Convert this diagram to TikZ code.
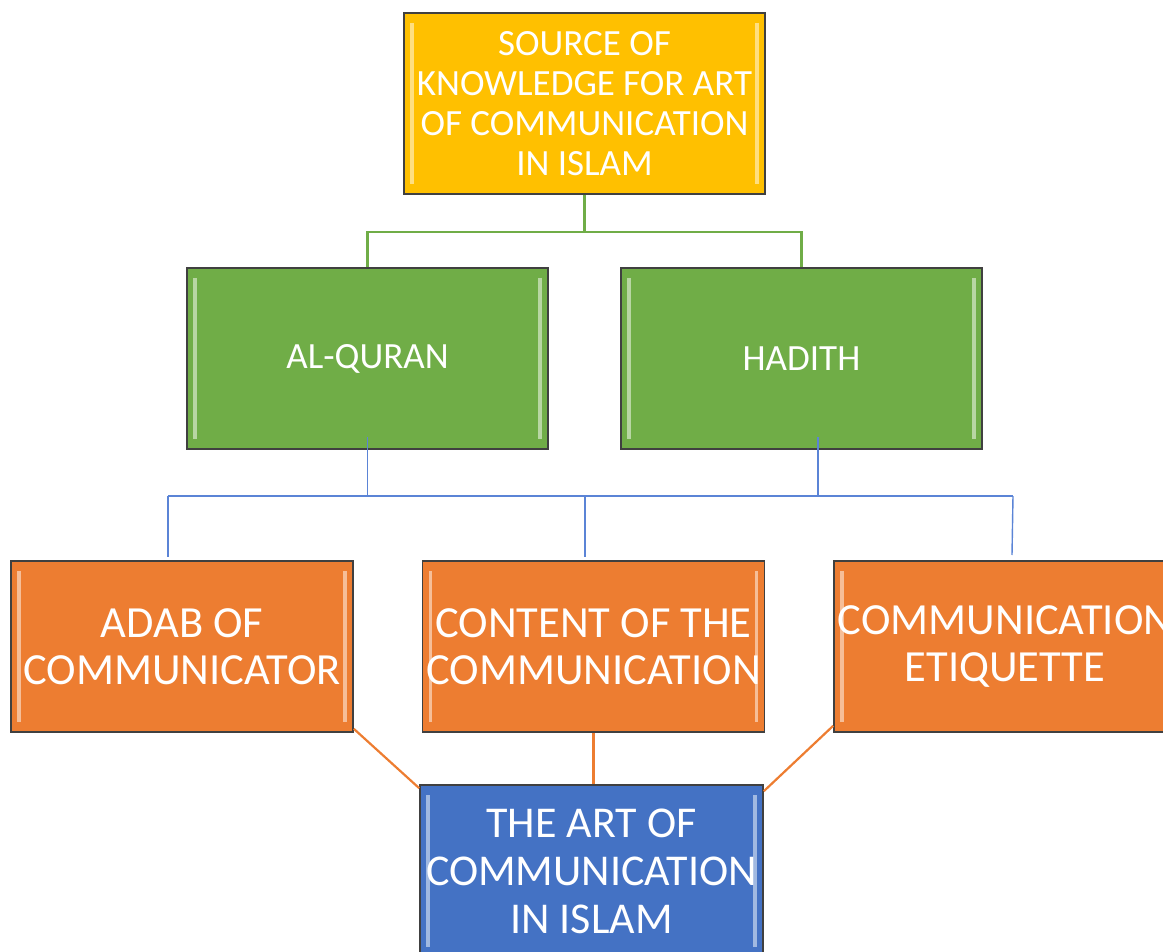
\documentclass[tikz,border=0pt]{standalone}
\usepackage{fontspec}
\setmainfont{Carlito}
\definecolor{gold}{HTML}{FFC000}
\definecolor{leaf}{HTML}{70AD47}
\definecolor{rust}{HTML}{ED7D31}
\definecolor{sea}{HTML}{4472C4}
\definecolor{rim}{HTML}{404040}
\definecolor{busblue}{HTML}{5B84D6}
\tikzset{
    boxfill/.style={draw=rim, line width=1.6pt, fill=#1, text=white, align=center, inner sep=0pt,
        path picture={
            \draw [#1!50!white, line width=3.5pt]
                ([shift={(8pt,-10pt)}]path picture bounding box.north west) --
                ([shift={(8pt,10pt)}]path picture bounding box.south west);
            \draw [#1!50!white, line width=3.5pt]
                ([shift={(-8pt,-10pt)}]path picture bounding box.north east) --
                ([shift={(-8pt,10pt)}]path picture bounding box.south east);
        }},
    topbox/.style={boxfill=gold, minimum width=361pt, minimum height=181pt, font=\fontsize{37}{40}\selectfont},
    midbox/.style={boxfill=leaf, minimum width=361pt, minimum height=181pt, font=\fontsize{37}{40}\selectfont},
    lowbox/.style={boxfill=rust, minimum width=342pt, minimum height=171pt, font=\fontsize{44.5}{47}\selectfont},
    artbox/.style={boxfill=sea, minimum width=343pt, minimum height=172pt, font=\fontsize{44}{48}\selectfont},
}
\begin{document}
\begin{tikzpicture}[x=1pt, y=-1pt]
    \useasboundingbox (0,0) rectangle (1163,952);
    \clip (0,0) rectangle (1163,952);

    \coordinate (S) at (584.5, 103.5);
    \coordinate (Q) at (367.5, 358.5);
    \coordinate (H) at (801.5, 358.5);
    \coordinate (A) at (182, 646.5);
    \coordinate (C) at (593.5, 646.5);
    \coordinate (E) at (1005, 646.5);
    \coordinate (T) at (591.5, 871);

    \coordinate (BL) at (168, 496);
    \coordinate (BM) at (585, 496);
    \coordinate (BR) at (1013, 496);
    \coordinate (QT) at (367.5, 437);
    \coordinate (HT) at (818, 437);

    \node [topbox] (SRC) at (S) {SOURCE OF\\KNOWLEDGE FOR ART\\OF COMMUNICATION\\IN ISLAM};
    \node [midbox] (QUR) at (Q) {AL-QURAN};
    \node [midbox] (HAD) at (H) {HADITH};
    \node [lowbox] (ADAB) at (A) {ADAB OF\\COMMUNICATOR};
    \node [lowbox] (CONT) at (C) {CONTENT OF THE\\COMMUNICATION};
    \node [lowbox] (ETIQ) at (E) {COMMUNICATION\\ETIQUETTE};
    \node [artbox] (ART) at (T) {THE ART OF\\COMMUNICATION\\IN ISLAM};

    \draw [leaf, line width=2.2pt] (SRC.south) -- ++(0,37) -| (QUR.north);
    \draw [leaf, line width=2.2pt] (SRC.south) -- ++(0,37) -| (HAD.north);

    \draw [busblue, line width=1.4pt] (QT) -- (QT |- BL);
    \draw [busblue, line width=1.4pt] (HT) -- (HT |- BR);
    \draw [busblue, line width=1.4pt] (BL) -- (BR);
    \draw [busblue, line width=1.4pt] (BL) -- ++(0,61);
    \draw [busblue, line width=1.4pt] (BM) -- ++(0,61);
    \draw [busblue, line width=1.4pt] (BR) -- ++(-1,59);

    \draw [rust, line width=2.2pt] ([yshift=4pt]ADAB.south east) -- ([yshift=-4pt]ART.north west);
    \draw [rust, line width=2.2pt] (CONT.south) -- (CONT.south |- ART.north);
    \draw [rust, line width=2.2pt] ([yshift=7pt]ETIQ.south west) -- ([yshift=-7pt]ART.north east);
\end{tikzpicture}
\end{document}
